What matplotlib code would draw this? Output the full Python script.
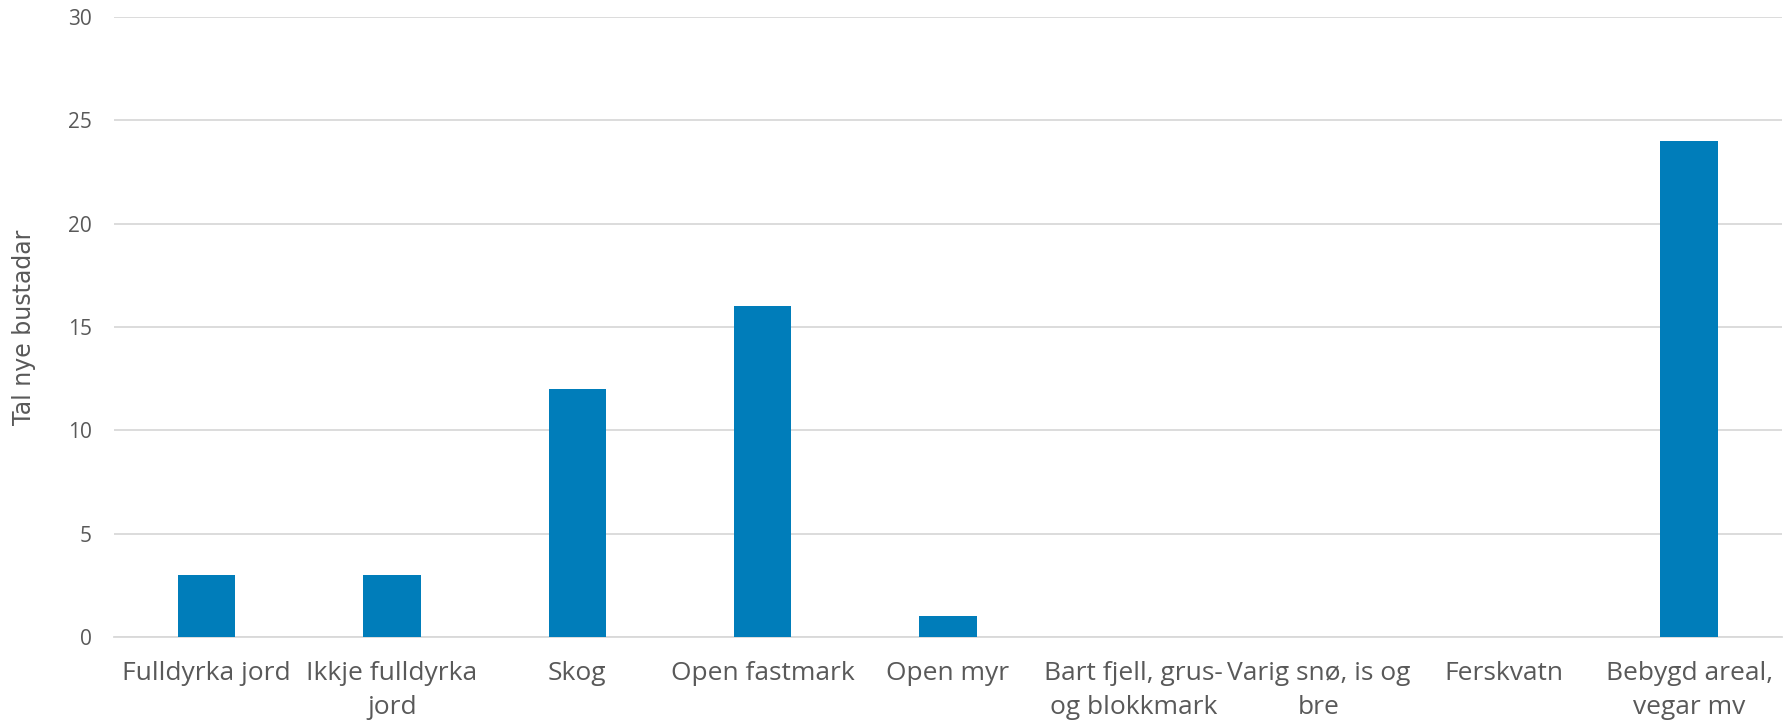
import matplotlib.pyplot as plt

# --- data ---
categories = ["Fulldyrka jord", "Ikkje fulldyrka\njord", "Skog", "Open fastmark",
              "Open myr", "Bart fjell, grus-\nog blokkmark", "Varig snø, is og\nbre",
              "Ferskvatn", "Bebygd areal,\nvegar mv"]
values = [3, 3, 12, 16, 1, 0, 0, 0, 24]
yticks = [0, 5, 10, 15, 20, 25, 30]

bar_color = "#007DBA"
text_color = "#595959"
grid_color = "#D9D9D9"

fig = plt.figure(figsize=(17.89, 7.25), dpi=100)
ax = fig.add_axes([0.0637, 0.1214, 0.9323, 0.8552])

x = range(len(categories))
ax.bar(x, values, width=0.31, color=bar_color, zorder=3)

ax.set_xlim(-0.5, len(categories) - 0.5)
ax.set_ylim(0, 30)
ax.set_yticks(yticks)
ax.set_xticks(list(x))
ax.set_xticklabels(categories, fontsize=19, color=text_color, family="Open Sans",
                   linespacing=1.5)
for lbl in ax.get_yticklabels():
    lbl.set_fontsize(15)
    lbl.set_color(text_color)
    lbl.set_family("Open Sans")

ax.grid(axis="y", color=grid_color, linewidth=1.3, zorder=0)
for s in ["top", "right", "left"]:
    ax.spines[s].set_visible(False)
ax.spines["bottom"].set_color(grid_color)
ax.spines["bottom"].set_linewidth(1.3)
ax.tick_params(axis="both", length=0)
ax.tick_params(axis="x", pad=17)
ax.tick_params(axis="y", pad=16)

ax.set_ylabel("Tal nye bustadar", fontsize=17, color=text_color,
              family=["Liberation Sans Narrow", "DejaVu Sans"], labelpad=23)

fig.savefig("out.png", dpi=100)
